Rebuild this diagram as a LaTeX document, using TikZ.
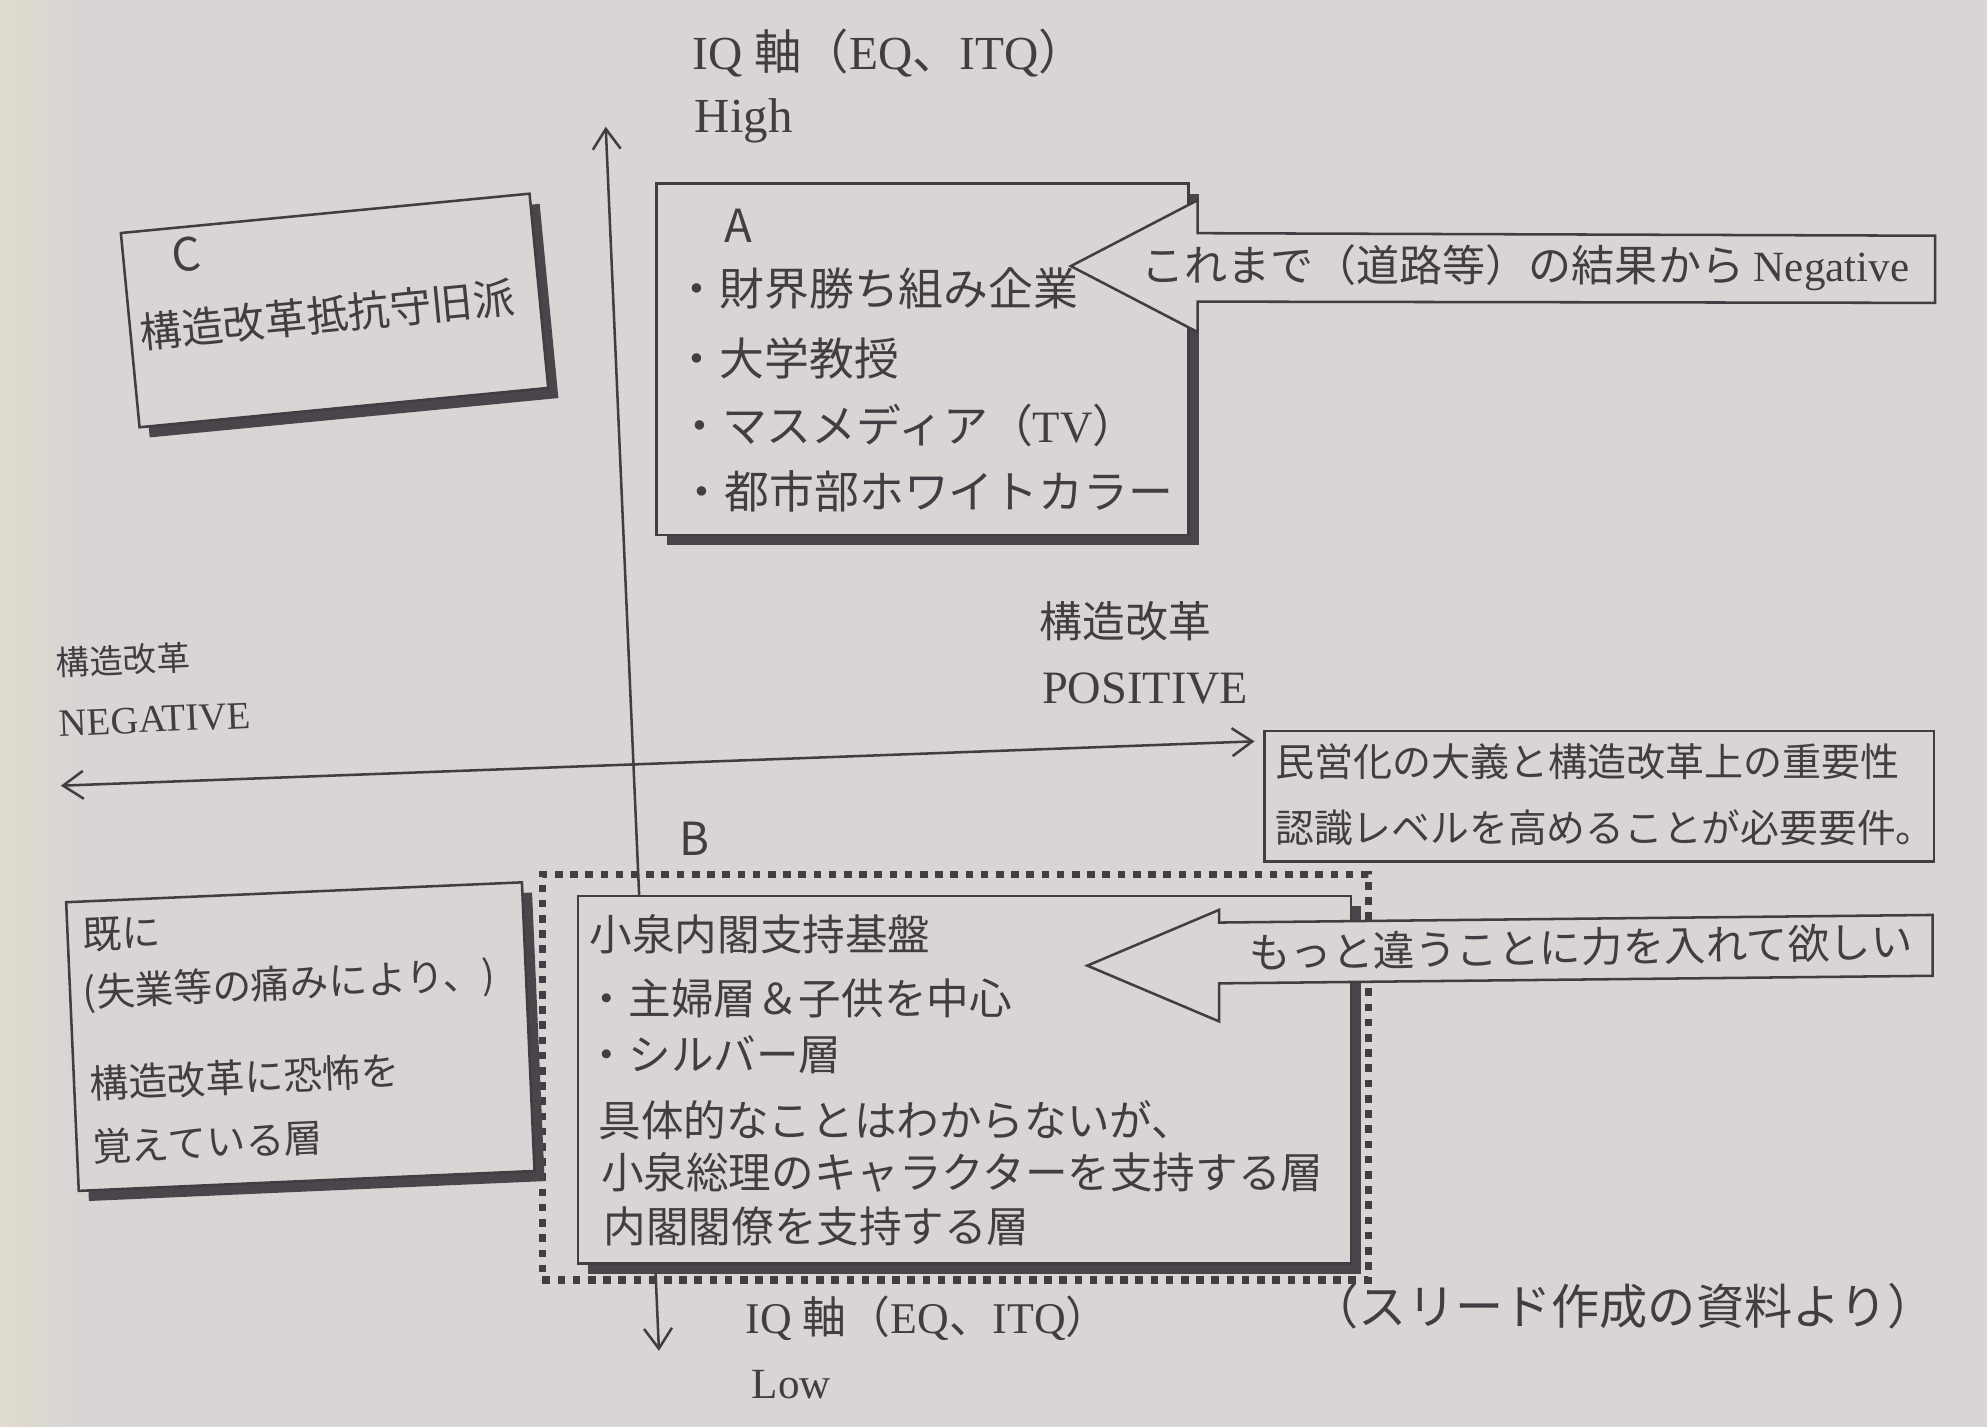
\documentclass[tikz,border=0pt]{standalone}
\usepackage{fontspec}
\setmainfont{Liberation Serif}
\newfontfamily\cjk{Noto Sans CJK JP}
\usetikzlibrary{arrows.meta,shadows}

\definecolor{paper}{RGB}{217,213,212}
\definecolor{paperedge}{RGB}{224,220,206}
\definecolor{ink}{RGB}{66,61,66}
\definecolor{shadowc}{RGB}{74,69,74}

\tikzset{
  jt/.style={inner sep=0pt, anchor=west, text=ink, font=\cjk\fontsize{#1}{#1}\selectfont},
  jt/.default=17,
  lt/.style={inner sep=0pt, anchor=west, text=ink, font=\fontsize{#1}{#1}\selectfont},
  lt/.default=18,
  letter/.style={inner sep=0pt, text=ink, font=\cjk\fontsize{18}{18}\selectfont},
  plainbox/.style={draw=ink, line width=1pt, fill=paper, inner sep=0pt},
  sbox/.style={plainbox, drop shadow={shadow xshift=4pt, shadow yshift=-4pt, fill=shadowc, opacity=1}},
  dotframe/.style={draw=ink, line width=3pt, dash pattern=on 3pt off 3pt, inner sep=0pt},
  axis/.style={draw=ink, line width=1pt, {Straight Barb[length=8pt,width=11pt,line width=1pt]}-{Straight Barb[length=8pt,width=11pt,line width=1pt]}},
  bigarrow/.style={draw=ink, line width=1pt, fill=paper, line join=miter},
}

\begin{document}
\begin{tikzpicture}[x=0.5pt,y=-0.5pt]
% background
\useasboundingbox (0,0) rectangle (1568,1126);
\fill[paper] (0,0) rectangle (1568,1126);
\shade[left color=paperedge, right color=paper] (0,0) rectangle (55,1126);

% axes
\coordinate (vt) at (478,100);
\coordinate (vb) at (520,1066);
\coordinate (hl) at (48,620);
\coordinate (hr) at (990,585);
\draw[axis] (vb) -- (vt);
\draw[axis] (hl) -- (hr);

% top / bottom axis labels
\node[lt=18.7] (iqhigh) at (546,42) {IQ {\cjk 軸（}EQ{\cjk 、}ITQ{\cjk ）}};
\node[lt=19.3] (high) at (548,95) {High};
\node[lt=17.3] (iqlow) at (588,1040) {IQ {\cjk 軸（}EQ{\cjk 、}ITQ{\cjk ）}};
\node[lt=17] (low) at (593,1093) {Low};

% horizontal axis labels
\node[jt=16.9] (posj) at (820,490) {構造改革};
\node[lt=18.3] (pos) at (822,543) {POSITIVE};
\begin{scope}[rotate around={2.5:(120,545)}, transform shape]
\node[jt=13.2] (negj) at (45,520) {構造改革};
\node[lt=15.3] (neg) at (45,568) {NEGATIVE};
\end{scope}

% C box
\begin{scope}[rotate around={5.5:(264,245)}, transform shape]
\node[sbox, minimum width=162pt, minimum height=77pt] (Cbox) at (264,245) {};
\node[letter] (Clab) at (152,190) {C};
\node[jt=16.5, anchor=center] (Ctxt) at (258,248) {構造改革抵抗守旧派};
\end{scope}

% A box
\node[sbox, minimum width=210pt, minimum height=138.5pt] (Abox) at (728,283.5) {};
\node[letter] (Alab) at (583,178) {A};
\node[jt=17.7] (a1) at (532,228) {・財界勝ち組み企業};
\node[jt=17.7] (a2) at (532,283) {・大学教授};
\node[jt=17.7] (a3) at (534,336) {・マスメディア（{\rmfamily TV}）};
\node[jt=17.7] (a4) at (536,388) {・都市部ホワイトカラー};

% arrow into A
\coordinate (t1) at (845,210);
\draw[bigarrow] (t1) -- (945,158) -- (945,184) -- (1527,186) -- (1527,239) -- (945,238) -- (945,262) -- cycle;
\node[jt=17] (arr1) at (900,211) {これまで（道路等）の結果から {\rmfamily Negative}};

% right box
\node[plainbox, minimum width=264pt, minimum height=51.5pt] (Rbox) at (1262,628.5) {};
\node[jt=15.4] (r1) at (1006,601) {民営化の大義と構造改革上の重要性};
\node[jt=15.3] (r2) at (1006,653) {認識レベルを高めることが必要要件。};

% B
\node[letter] (Blab) at (548,662) {B};
\node[dotframe, minimum width=326pt, minimum height=160pt] (Bframe) at (754,850) {};
\node[sbox, minimum width=305pt, minimum height=145pt] (Bbox) at (761,852) {};
\node[jt=16.8] (b1) at (465,737) {小泉内閣支持基盤};
\node[jt=16.8] (b2) at (462,788) {・主婦層＆子供を中心};
\node[jt=16.8] (b3) at (462,832) {・シルバー層};
\node[jt=16.8] (b4) at (472,884) {具体的なことはわからないが、};
\node[jt=16.8] (b5) at (474,925) {小泉総理のキャラクターを支持する層};
\node[jt=16.8] (b6) at (476,968) {内閣閣僚を支持する層};

% arrow into B
\coordinate (t2) at (858,762);
\draw[bigarrow] (t2) -- (962,718) -- (962,728) -- (1525,722) -- (1525,770) -- (962,776) -- (962,806) -- cycle;
\node[jt=16.4, rotate=1] (arr2) at (985,752) {もっと違うことに力を入れて欲しい};

% left lower box
\begin{scope}[rotate around={2.5:(237,818)}, transform shape]
\node[sbox, minimum width=180pt, minimum height=114pt] (Lbox) at (237,818) {};
\node[jt=15.3] (l1) at (69,731) {既に};
\node[jt=15.3] (l2) at (67,777) {(失業等の痛みにより、)};
\node[jt=15.3] (l3) at (69,848) {構造改革に恐怖を};
\node[jt=15.3] (l4) at (69,898) {覚えている層};
\end{scope}

% source
\node[jt=19] (src) at (1034,1031) {（スリード作成の資料より）};
\end{tikzpicture}
\end{document}
